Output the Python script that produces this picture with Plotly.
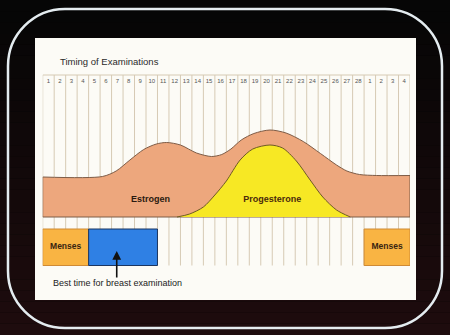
import plotly.graph_objects as go

# ---------------- data ----------------
day_labels = [str(d) for d in range(1, 29)] + ["1", "2", "3", "4"]

# estrogen level (arbitrary units above baseline) vs. position in day columns
estrogen_x = [0, 5.2, 6.4, 7.6, 8.8, 9.9, 10.8, 12.0, 13.4, 14.7, 15.6, 16.4, 17.3,
              18.4, 19.8, 21.2, 22.7, 24.2, 25.6, 26.5, 27.6, 29.1, 32]
estrogen_level = [40, 40.5, 46, 57, 67.5, 73, 74.5, 72, 64, 60.5, 62.5, 68, 77,
                  83.5, 87, 84, 75.5, 63.5, 52, 46, 42.5, 41.5, 41.5]

progesterone_x = [11.7, 12.8, 14.0, 15.0, 16.0, 17.2, 18.3, 19.8, 20.9, 22.1, 23.3,
                  24.4, 25.6, 26.8]
progesterone_level = [0, 3, 10, 22, 36, 57, 68, 72, 69, 56, 37, 20, 7, 0]

menses_spans = [(0, 4), (28, 32)]          # column spans (days 1-4 of each cycle)
exam_span = (4, 10)                         # days 5-10

BOX_TOP, BOX_BOTTOM = -12, -48.5

# ---------------- figure ----------------
W, H = 450, 335
def fx(x):
    return x / W
def fy(y):
    return 1 - y / H

FONT = "Liberation Sans, Arial, sans-serif"
fig = go.Figure()

ncol = len(day_labels)
YMIN, YMAX = -50, 143

# day numbers
fig.add_trace(go.Scatter(x=[i + 0.5 for i in range(ncol)], y=[136] * ncol, mode="text",
                         text=day_labels, textfont=dict(size=6, color="#555", family=FONT),
                         hoverinfo="skip", showlegend=False))

# estrogen
fig.add_trace(go.Scatter(x=estrogen_x, y=estrogen_level, mode="lines", fill="tozeroy",
                         fillcolor="#eda77d", line=dict(color="#7d5c47", width=1, shape="spline", smoothing=0.8),
                         hoverinfo="skip", showlegend=False))
fig.add_trace(go.Scatter(x=[estrogen_x[0], estrogen_x[0], estrogen_x[-1], estrogen_x[-1]],
                         y=[estrogen_level[0], 0, 0, estrogen_level[-1]], mode="lines",
                         line=dict(color="#7d5c47", width=1), hoverinfo="skip", showlegend=False))

# progesterone
fig.add_trace(go.Scatter(x=progesterone_x, y=progesterone_level, mode="lines", fill="tozeroy",
                         fillcolor="#f7e824", line=dict(color="#6e5a24", width=1, shape="spline", smoothing=0.8),
                         hoverinfo="skip", showlegend=False))

# menses boxes
for a, b in menses_spans:
    fig.add_trace(go.Bar(x=[(a + b) / 2], y=[BOX_TOP - BOX_BOTTOM], base=[BOX_BOTTOM], width=[b - a],
                         marker=dict(color="#f9b443", line=dict(color="#cf8a35", width=1)),
                         hoverinfo="skip", showlegend=False))
    fig.add_trace(go.Scatter(x=[(a + b) / 2], y=[(BOX_TOP + BOX_BOTTOM) / 2], mode="text", text=["<b>Menses</b>"],
                         textfont=dict(size=8.5, color="#3a2410", family=FONT), hoverinfo="skip", showlegend=False))

# exam box
a, b = exam_span
fig.add_trace(go.Bar(x=[(a + b) / 2], y=[BOX_TOP - BOX_BOTTOM], base=[BOX_BOTTOM], width=[b - a],
                     marker=dict(color="#2f80e4", line=dict(color="#1b3560", width=1)),
                     hoverinfo="skip", showlegend=False))

# labels
fig.add_trace(go.Scatter(x=[9.4, 20.0], y=[17, 17], mode="text",
                         text=["<b>Estrogen</b>", "<b>Progesterone</b>"],
                         textfont=dict(size=9, color=["#2a1a10", "#4a2a0c"], family=FONT),
                         hoverinfo="skip", showlegend=False))

ex = a + 2.45
fig.add_annotation(x=ex, y=-34, ax=ex, ay=-62, xref="x", yref="y", axref="x", ayref="y",
                   text="", showarrow=True, arrowhead=2, arrowsize=1.1, arrowwidth=1.6, arrowcolor="#111")

fig.add_annotation(x=fx(51), y=fy(283), xref="paper", yref="paper", xanchor="left", yanchor="middle",
                   text="Best time for breast examination", showarrow=False,
                   font=dict(size=9, color="#222", family=FONT))
fig.add_annotation(x=fx(58), y=fy(61), xref="paper", yref="paper", xanchor="left", yanchor="middle",
                   text="Timing of Examinations", showarrow=False,
                   font=dict(size=9.5, color="#2a2a2a", family=FONT))

# ---------------- decoration ----------------
shapes = []
nb = 30
for i in range(nb):
    t = i / (nb - 1)
    r = int(6 + t * 24); g = int(6 + t * 6); bb = int(6 + t * 8)
    shapes.append(dict(type="rect", xref="paper", yref="paper", x0=0, x1=1,
                       y0=fy(H * (i + 1) / nb), y1=fy(H * i / nb),
                       fillcolor=f"rgb({r},{g},{bb})", line=dict(width=0), layer="below"))
# rounded outline
L, R, T, B, rad = 8, 442, 9, 328, 57
k = 0.5523 * rad
path = (f"M {fx(L+rad)},{fy(T)} L {fx(R-rad)},{fy(T)} "
        f"C {fx(R-rad+k)},{fy(T)} {fx(R)},{fy(T+rad-k)} {fx(R)},{fy(T+rad)} "
        f"L {fx(R)},{fy(B-rad)} "
        f"C {fx(R)},{fy(B-rad+k)} {fx(R-rad+k)},{fy(B)} {fx(R-rad)},{fy(B)} "
        f"L {fx(L+rad)},{fy(B)} "
        f"C {fx(L+rad-k)},{fy(B)} {fx(L)},{fy(B-rad+k)} {fx(L)},{fy(B-rad)} "
        f"L {fx(L)},{fy(T+rad)} "
        f"C {fx(L)},{fy(T+rad-k)} {fx(L+rad-k)},{fy(T)} {fx(L+rad)},{fy(T)} Z")
shapes.append(dict(type="path", xref="paper", yref="paper", path=path,
                   line=dict(color="#e4ecf0", width=2.5), layer="below"))
# white panel
shapes.append(dict(type="rect", xref="paper", yref="paper", x0=fx(35), x1=fx(416), y0=fy(300), y1=fy(38),
                   fillcolor="#fcfbf6", line=dict(width=0), layer="below"))
# grid of day columns (below all traces)
GRID = "#d6cab4"
for i in range(ncol + 1):
    shapes.append(dict(type="line", xref="x", yref="y", x0=i, x1=i, y0=BOX_BOTTOM, y1=142,
                       line=dict(color=GRID, width=1), layer="below"))
shapes.append(dict(type="line", xref="x", yref="y", x0=0, x1=ncol, y0=142, y1=142,
                   line=dict(color=GRID, width=1), layer="below"))

fig.update_layout(
    width=W, height=H, margin=dict(l=0, r=0, t=0, b=0),
    paper_bgcolor="#060606", plot_bgcolor="rgba(0,0,0,0)",
    shapes=shapes, barmode="overlay", showlegend=False,
    xaxis=dict(range=[0, ncol], domain=[fx(42.7), fx(410)], visible=False, fixedrange=True),
    yaxis=dict(range=[YMIN, YMAX], domain=[fy(267), fy(74)], visible=False, fixedrange=True),
)

fig.write_html("out.html")
